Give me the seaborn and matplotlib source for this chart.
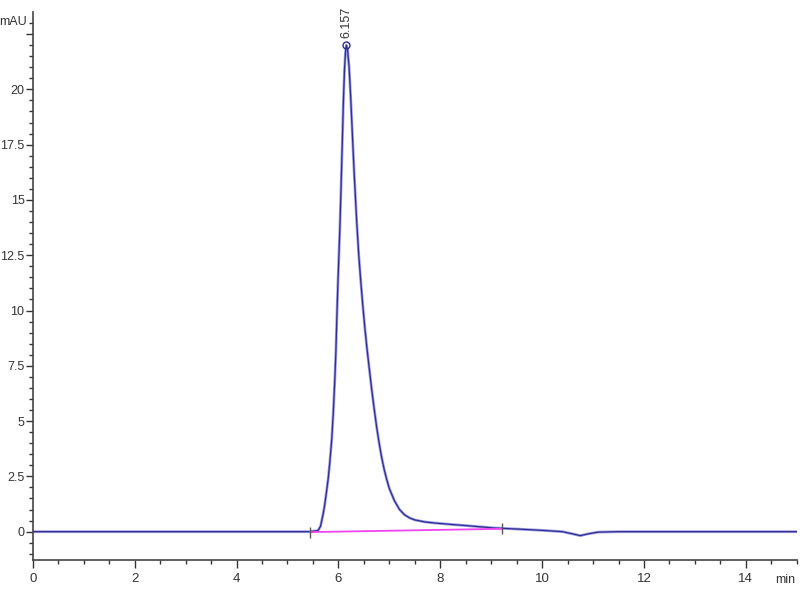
"""
HPLC chromatogram (mAU vs min) with one integrated peak at 6.157 min
"""

import matplotlib

matplotlib.use("Agg")
import matplotlib.pyplot as plt
import pandas as pd
import seaborn as sns
from matplotlib.ticker import FixedLocator, MultipleLocator

# trace
time_min = [0, 1, 2, 3, 4, 5, 5.44, 5.6, 5.65, 5.7, 5.73, 5.76, 5.8, 5.83,
            5.87, 5.9, 5.93, 5.95, 5.97, 5.99, 6.01, 6.03, 6.05, 6.08, 6.1,
            6.12, 6.14, 6.157, 6.18, 6.21, 6.24, 6.27, 6.31, 6.36, 6.4, 6.44,
            6.48, 6.52, 6.56, 6.6, 6.65, 6.7, 6.75, 6.8, 6.85, 6.9, 6.95, 7.0,
            7.1, 7.2, 7.3, 7.4, 7.5, 7.7, 7.9, 8.2, 8.53, 9.04, 9.5, 10.0,
            10.4, 10.6, 10.75, 10.9, 11.1, 11.5, 12, 13, 14, 15]
signal_mau = [0, 0, 0, 0, 0, 0, 0, 0.05, 0.25, 0.8, 1.2, 1.7, 2.4, 3.1,
              4.2, 5.4, 6.9, 8.1, 9.7, 11.2, 12.5, 13.8, 15.4, 17.9, 19.6,
              20.9, 21.7, 22.0, 21.8, 21.0, 19.7, 18.2, 16.2, 14.0, 12.5, 11.3,
              10.2, 9.2, 8.3, 7.5, 6.5, 5.6, 4.75, 4.0, 3.35, 2.8, 2.35, 1.95,
              1.4, 1.0, 0.76, 0.62, 0.53, 0.44, 0.39, 0.33, 0.27, 0.17, 0.12,
              0.06, 0.0, -0.1, -0.18, -0.1, -0.02, 0, 0, 0, 0, 0]

# integration baseline
baseline_time = [5.44, 9.21]
baseline_mau = [-0.02, 0.13]

peak_time = 6.157
peak_height = 22.0
peak_label = "6.157"

y_major = [0, 2.5, 5, 7.5, 10, 12.5, 15, 17.5, 20, 22.5]
y_labels = ["0", "2.5", "5", "7.5", "10", "12.5", "15", "17.5", "20", ""]

trace = pd.DataFrame({"time": time_min, "signal": signal_mau})
base = pd.DataFrame({"time": baseline_time, "signal": baseline_mau})

sns.set_style("ticks")
plt.rcParams["font.family"] = ["Liberation Sans", "DejaVu Sans"]

fig = plt.figure(figsize=(8, 6), dpi=100)
ax = fig.add_axes([0.041, 0.0667, 0.955, 0.913])

sns.lineplot(data=trace, x="time", y="signal", ax=ax, color="#a09ee4",
             linewidth=2.0, estimator=None, sort=False)
sns.lineplot(data=trace, x="time", y="signal", ax=ax, color="#2d2d92",
             linewidth=0.9, estimator=None, sort=False)
sns.lineplot(data=base, x="time", y="signal", ax=ax, color="#f044f0",
             linewidth=1.3, estimator=None)
ax.vlines(baseline_time, [b - 0.25 for b in baseline_mau],
          [b + 0.25 for b in baseline_mau], color="#555555", linewidth=1)

ax.plot([peak_time], [peak_height], marker="o", markersize=5,
        markerfacecolor="none", markeredgecolor="#2d2d92")
ax.annotate(peak_label, (peak_time, peak_height), xytext=(0, 5),
            textcoords="offset points", rotation=90, ha="center", va="bottom",
            fontsize=9, color="#333333")

ax.set_xlim(0, 15)
ax.set_ylim(-1.28, 23.49)
ax.xaxis.set_major_locator(MultipleLocator(2))
ax.xaxis.set_minor_locator(MultipleLocator(0.5))
ax.yaxis.set_major_locator(FixedLocator(y_major))
ax.set_yticklabels(y_labels)
ax.yaxis.set_minor_locator(MultipleLocator(0.5))
ax.tick_params(which="major", length=6, width=1, labelsize=9.5,
               labelcolor="#333333", color="#333333")
ax.tick_params(axis="y", which="major", length=5, pad=1, labelsize=9)
ax.tick_params(which="minor", length=3, width=1, color="#333333")
ax.set_xlabel("")
ax.set_ylabel("")
sns.despine(ax=ax)
for side in ["left", "bottom"]:
    ax.spines[side].set_color("#444444")
    ax.spines[side].set_linewidth(1.2)

fig.text(0.016, 0.964, "mAU", fontsize=9, color="#333333",
         ha="center", va="center")
fig.text(0.982, 0.033, "min", fontsize=9, color="#333333",
         ha="center", va="center")

fig.savefig("out.png", dpi=100)
